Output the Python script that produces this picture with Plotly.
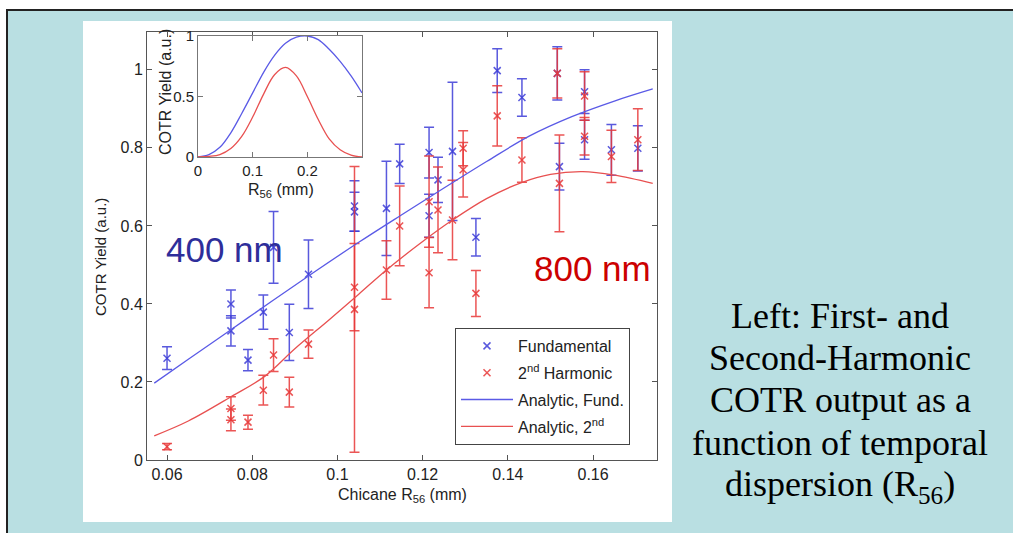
import plotly.graph_objects as go

# ---------------- data ----------------
fund_r56 = [0.0600, 0.0750, 0.0750, 0.0790, 0.0826, 0.0850, 0.0887, 0.0932,
            0.1040, 0.1040, 0.1115, 0.1146, 0.1215, 0.1215, 0.1236, 0.1270,
            0.1325, 0.1375, 0.1433, 0.1516, 0.1521, 0.1580, 0.1580, 0.1643, 0.1705]
fund_yield = [0.261, 0.400, 0.331, 0.256, 0.379, 0.545, 0.327, 0.476,
              0.651, 0.636, 0.645, 0.759, 0.788, 0.626, 0.718, 0.791,
              0.571, 0.998, 0.929, 0.991, 0.752, 0.944, 0.821, 0.795, 0.799]
fund_err = [0.029, 0.036, 0.039, 0.027, 0.044, 0.092, 0.072, 0.088,
            0.065, 0.050, 0.121, 0.050, 0.065, 0.055, 0.058, 0.177,
            0.048, 0.056, 0.048, 0.068, 0.060, 0.056, 0.050, 0.065, 0.058]

harm_r56 = [0.0600, 0.0750, 0.0750, 0.0790, 0.0826, 0.0850, 0.0887, 0.0932,
            0.1040, 0.1040, 0.1115, 0.1146, 0.1215, 0.1215, 0.1236, 0.1270,
            0.1295, 0.1295, 0.1325, 0.1375, 0.1433, 0.1516, 0.1521, 0.1580,
            0.1580, 0.1643, 0.1705]
harm_yield = [0.034, 0.132, 0.103, 0.097, 0.179, 0.269, 0.174, 0.297,
              0.443, 0.386, 0.487, 0.600, 0.662, 0.480, 0.641, 0.615,
              0.799, 0.744, 0.427, 0.882, 0.769, 0.991, 0.709, 0.933,
              0.830, 0.778, 0.821]
harm_err = [0.008, 0.030, 0.028, 0.018, 0.038, 0.042, 0.038, 0.036,
            0.112, 0.366, 0.075, 0.102, 0.117, 0.090, 0.110, 0.102,
            0.045, 0.070, 0.059, 0.077, 0.057, 0.063, 0.124, 0.062,
            0.048, 0.067, 0.079]

fit_fund_r56 = [0.057, 0.065, 0.075, 0.085, 0.095, 0.105, 0.115, 0.125,
                0.135, 0.145, 0.155, 0.165, 0.174]
fit_fund_yield = [0.197, 0.258, 0.334, 0.410, 0.485, 0.558, 0.628, 0.697,
                  0.765, 0.830, 0.880, 0.920, 0.951]

fit_harm_r56 = [0.057, 0.065, 0.075, 0.083, 0.090, 0.098, 0.105, 0.1115, 0.120,
                0.127, 0.135, 0.1432, 0.150, 0.1576, 0.165, 0.174]
fit_harm_yield = [0.062, 0.100, 0.162, 0.215, 0.285, 0.359, 0.425, 0.487, 0.560,
                  0.615, 0.670, 0.711, 0.732, 0.739, 0.730, 0.709]

inset_r56 = [0.00, 0.02, 0.04, 0.06, 0.08, 0.10, 0.12, 0.14, 0.16, 0.18,
             0.20, 0.22, 0.24, 0.26, 0.28, 0.30]
inset_fund = [0.00, 0.02, 0.08, 0.20, 0.36, 0.53, 0.70, 0.84, 0.94, 0.99,
              1.00, 0.97, 0.89, 0.79, 0.67, 0.53]
inset_harm = [0.00, 0.005, 0.02, 0.07, 0.17, 0.33, 0.52, 0.68, 0.74, 0.67,
              0.50, 0.31, 0.15, 0.06, 0.015, 0.00]

x_tick_vals = [0.06, 0.08, 0.10, 0.12, 0.14, 0.16]
x_tick_text = ["0.06", "0.08", "0.1", "0.12", "0.14", "0.16"]
y_tick_vals = [0, 0.2, 0.4, 0.6, 0.8, 1.0]
y_tick_text = ["0", "0.2", "0.4", "0.6", "0.8", "1"]
inset_x_vals = [0, 0.1, 0.2]
inset_x_text = ["0", "0.1", "0.2"]
inset_y_vals = [0, 0.5, 1]
inset_y_text = ["0", "0.5", "1"]

caption_lines = ["Left: First- and", "Second-Harmonic", "COTR output as a",
                 "function of temporal", "dispersion (R<sub>56</sub>)"]

# ---------------- geometry helpers ----------------
W, H = 1013, 533
L, R, T, B = 147, 657, 32, 460


def px(x):
    return (x - L) / (R - L)


def py(y):
    return (B - y) / (B - T)


BLUE = "rgba(60,60,215,0.85)"
RED = "rgba(232,55,55,0.85)"
BLUE_LINE = "rgb(90,90,230)"
RED_LINE = "rgb(232,80,80)"
AXC = "#555555"
FONT = "Liberation Sans, Arial, sans-serif"

fig = go.Figure()

fig.add_trace(go.Scatter(
    x=fund_r56, y=fund_yield, mode="markers", name="Fundamental", legendgroup="a",
    marker=dict(symbol="x-thin-open", size=7, line=dict(width=1.5, color=BLUE), color=BLUE),
    error_y=dict(type="data", array=fund_err, visible=True, color=BLUE, thickness=1.5, width=5),
))
fig.add_trace(go.Scatter(
    x=harm_r56, y=harm_yield, mode="markers", name="2<sup>nd</sup> Harmonic", legendgroup="b",
    marker=dict(symbol="x-thin-open", size=7, line=dict(width=1.5, color=RED), color=RED),
    error_y=dict(type="data", array=harm_err, visible=True, color=RED, thickness=1.5, width=5),
))
fig.add_trace(go.Scatter(
    x=fit_fund_r56, y=fit_fund_yield, mode="lines", name="Analytic, Fund.", legendgroup="c",
    line=dict(color=BLUE_LINE, width=1.3, shape="spline"),
))
fig.add_trace(go.Scatter(
    x=fit_harm_r56, y=fit_harm_yield, mode="lines", name="Analytic, 2<sup>nd</sup>", legendgroup="d",
    line=dict(color=RED_LINE, width=1.3, shape="spline"),
))
fig.add_trace(go.Scatter(
    x=inset_r56, y=inset_fund, mode="lines", showlegend=False, xaxis="x2", yaxis="y2",
    line=dict(color=BLUE_LINE, width=1.3, shape="spline"),
))
fig.add_trace(go.Scatter(
    x=inset_r56, y=inset_harm, mode="lines", showlegend=False, xaxis="x2", yaxis="y2",
    line=dict(color=RED_LINE, width=1.3, shape="spline"),
))

axis_common = dict(showline=True, linecolor=AXC, linewidth=1, mirror="ticks",
                   ticks="inside", ticklen=5, tickcolor=AXC, showgrid=False,
                   zeroline=False, tickfont=dict(family=FONT, size=16, color="#222"))
inset_axis = {**axis_common, "tickfont": dict(family=FONT, size=15, color="#222"),
              "linecolor": "#777", "tickcolor": "#777"}

fig.update_layout(
    width=W, height=H,
    margin=dict(l=L, r=W - R, t=T, b=H - B, pad=0),
    paper_bgcolor="white", plot_bgcolor="white",
    font=dict(family=FONT, color="#222"),
    showlegend=True,
    xaxis=dict(domain=[0, 1], range=[0.0553, 0.175], anchor="y",
               tickvals=x_tick_vals, ticktext=x_tick_text, **axis_common),
    yaxis=dict(domain=[0, 1], range=[0, 1.097], anchor="x",
               tickvals=y_tick_vals, ticktext=y_tick_text, **axis_common),
    xaxis2=dict(domain=[px(198), px(362)], range=[0, 0.3], anchor="y2",
                tickvals=inset_x_vals, ticktext=inset_x_text, **inset_axis),
    yaxis2=dict(domain=[py(157), py(36)], range=[0, 1], anchor="x2",
                tickvals=inset_y_vals, ticktext=inset_y_text, **inset_axis),
    legend=dict(x=px(455), y=py(328), xanchor="left", yanchor="top",
                bgcolor="white", bordercolor="#444", borderwidth=1,
                itemwidth=52, tracegroupgap=3,
                font=dict(family=FONT, size=16, color="#222")),
)

shapes = [
    # slide background with border
    dict(type="rect", xref="paper", yref="paper", x0=px(7), x1=px(1030), y0=py(550), y1=py(10),
         fillcolor="#b9dfe2", line=dict(color="#222", width=2), layer="below"),
    # white panel
    dict(type="rect", xref="paper", yref="paper", x0=px(83), x1=px(672), y0=py(522), y1=py(21),
         fillcolor="white", line=dict(width=0), layer="below"),
]
fig.update_layout(shapes=shapes)

ann = [
    dict(text="400 nm", x=px(224), y=py(249), font=dict(family=FONT, size=35, color="#2e2e9a")),
    dict(text="800 nm", x=px(592), y=py(268), font=dict(family=FONT, size=35, color="#cc0000")),
    dict(text="COTR Yield (a.u.)", x=px(100), y=py(257), textangle=-90,
         font=dict(family=FONT, size=15, color="#222")),
    dict(text="Chicane R<sub>56</sub> (mm)", x=px(402), y=py(495),
         font=dict(family=FONT, size=16, color="#222")),
    dict(text="COTR Yield (a.u.)", x=px(165), y=py(92), textangle=-90,
         font=dict(family=FONT, size=16, color="#222")),
    dict(text="R<sub>56</sub> (mm)", x=px(281), y=py(190),
         font=dict(family=FONT, size=16, color="#222")),
]
for line, yc in zip(caption_lines, [316, 358, 400, 443, 486]):
    ann.append(dict(text=line, x=px(840), y=py(yc),
                    font=dict(family="Liberation Serif, Times New Roman, serif", size=36, color="black")))
for a in ann:
    a.update(xref="paper", yref="paper", showarrow=False, xanchor="center", yanchor="middle")
fig.update_layout(annotations=ann)

fig.write_html("out.html")
